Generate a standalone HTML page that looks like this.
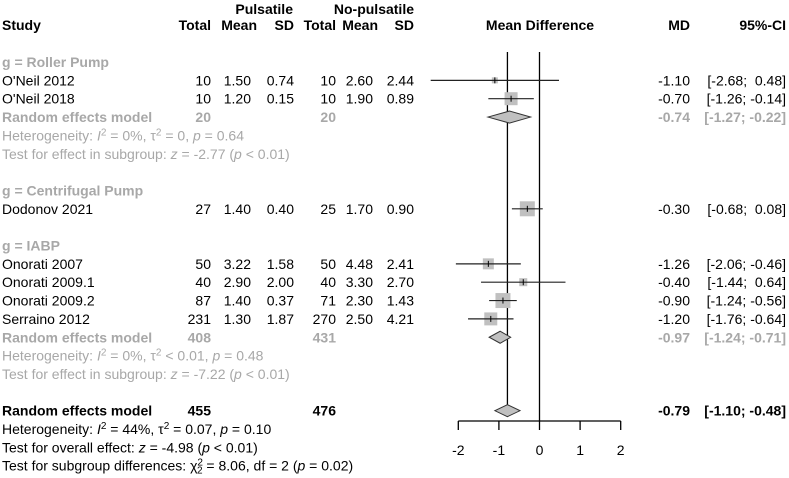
<!DOCTYPE html>
<html><head><meta charset="utf-8"><style>
body{margin:0;background:#fff}
svg{display:block;font-family:"Liberation Sans",Arial,sans-serif;font-size:14px}
.b{font-weight:bold}.g{fill:#a8a8a8}
</style></head><body>
<svg id="plot" width="789" height="478" viewBox="0 0 789 478">
<g>
<text x="2" y="30" class="b">Study</text>
<text x="293" y="14" class="b" text-anchor="end">Pulsatile</text>
<text x="414" y="14" class="b" text-anchor="end">No-pulsatile</text>
<text x="211" y="30" class="b" text-anchor="end">Total</text>
<text x="257" y="30" class="b" text-anchor="end">Mean</text>
<text x="294" y="30" class="b" text-anchor="end">SD</text>
<text x="336" y="30" class="b" text-anchor="end">Total</text>
<text x="378" y="30" class="b" text-anchor="end">Mean</text>
<text x="414" y="30" class="b" text-anchor="end">SD</text>
<text x="540" y="30" class="b" text-anchor="middle">Mean Difference</text>
<text x="690" y="30" class="b" text-anchor="end">MD</text>
<text x="786" y="30" class="b" text-anchor="end">95%-CI</text>
</g>
<g id="rows"></g>
<g id="marks"></g>
</svg>
<script>
const labels=["O'Neil 2012","O'Neil 2018","Dodonov 2021","Onorati 2007","Onorati 2009.1","Onorati 2009.2","Serraino 2012"];
const nP=[10,10,27,50,40,87,231];
const meanP=["1.50","1.20","1.40","3.22","2.90","1.40","1.30"];
const sdP=["0.74","0.15","0.40","1.58","2.00","0.37","1.87"];
const nN=[10,10,25,50,40,71,270];
const meanN=["2.60","1.90","1.70","4.48","3.30","2.30","2.50"];
const sdN=["2.44","0.89","0.90","2.41","2.70","1.43","4.21"];
const md=[-1.10,-0.70,-0.30,-1.26,-0.40,-0.90,-1.20];
const lo=[-2.68,-1.26,-0.68,-2.06,-1.44,-1.24,-1.76];
const hi=[0.48,-0.14,0.08,-0.46,0.64,-0.56,-0.64];
const wt=[6,13,15,11,8,15,13];
const rowIdx=[1,2,8,11,12,13,14];
const poolMd=[-0.74,-0.97,-0.79];
const poolLo=[-1.27,-1.24,-1.10];
const poolHi=[-0.22,-0.71,-0.48];
const poolRow=[3,15,19];
const ticks=[-2,-1,0,1,2];

const NS="http://www.w3.org/2000/svg";
const X=v=>539.5+v*40.6;
const Y=r=>62+r*18.35;
const rows=document.getElementById('rows'),marks=document.getElementById('marks');
function el(tag,attrs,parent){const e=document.createElementNS(NS,tag);for(const k in attrs)e.setAttribute(k,attrs[k]);parent.appendChild(e);return e;}
function t(x,y,s,cls,anchor,parent,name){const e=el('text',{x:x,y:y,'text-anchor':anchor||'start'},parent||rows);if(cls)e.setAttribute('class',cls);e.innerHTML=s;

return e;}
const f2=v=>(v<0?'-':'')+Math.abs(v).toFixed(2);
const ci=(a,b)=>'['+f2(a)+'; '+(b>=0?'&#160;':'')+f2(b)+']';
const L=2;

t(L,Y(0)+5,'g = Roller Pump','b g','start',rows,'subgroup-roller');
t(L,Y(7)+5,'g = Centrifugal Pump','b g','start',rows,'subgroup-centrifugal');
t(L,Y(10)+5,'g = IABP','b g','start',rows,'subgroup-iabp');
const sub=[[20,20,3],[408,431,15]];
sub.forEach(s=>{
 t(L,Y(s[2])+5,'Random effects model','b g','start',rows,'subgroup-re-label');
 t(211,Y(s[2])+5,s[0],'b g','end',rows,'subgroup-total-p');
 t(336,Y(s[2])+5,s[1],'b g','end',rows,'subgroup-total-np');
});
const sup=s=>'<tspan dy="-5" font-size="10">'+s+'</tspan><tspan dy="5">';
t(L,Y(4)+5,'Heterogeneity: <tspan font-style="italic">I</tspan>'+sup('2')+' = 0%, τ</tspan>'+sup('2')+' = 0, </tspan><tspan font-style="italic">p</tspan> = 0.64','g','start',rows,'heterogeneity-roller');
t(L,Y(5)+5,'Test for effect in subgroup: <tspan font-style="italic">z</tspan> = -2.77 (<tspan font-style="italic">p</tspan> &lt; 0.01)','g','start',rows,'effect-test-roller');
t(L,Y(16)+5,'Heterogeneity: <tspan font-style="italic">I</tspan>'+sup('2')+' = 0%, τ</tspan>'+sup('2')+' &lt; 0.01, </tspan><tspan font-style="italic">p</tspan> = 0.48','g','start',rows,'heterogeneity-iabp');
t(L,Y(17)+5,'Test for effect in subgroup: <tspan font-style="italic">z</tspan> = -7.22 (<tspan font-style="italic">p</tspan> &lt; 0.01)','g','start',rows,'effect-test-iabp');
t(L,Y(19)+5,'Random effects model','b','start',rows,'overall-re-label');
t(211,Y(19)+5,'455','b','end',rows,'overall-total-p');
t(336,Y(19)+5,'476','b','end',rows,'overall-total-np');
t(L,Y(20)+5,'Heterogeneity: <tspan font-style="italic">I</tspan>'+sup('2')+' = 44%, τ</tspan>'+sup('2')+' = 0.07, </tspan><tspan font-style="italic">p</tspan> = 0.10','','start',rows,'heterogeneity-overall');
t(L,Y(21)+5,'Test for overall effect: <tspan font-style="italic">z</tspan> = -4.98 (<tspan font-style="italic">p</tspan> &lt; 0.01)','','start',rows,'overall-effect-test');
t(L,Y(22)+5,'Test for subgroup differences: χ<tspan dy="-5" font-size="10">2</tspan><tspan dy="8" dx="-6" font-size="10">2</tspan><tspan dy="-3"> = 8.06, df = 2 (</tspan><tspan font-style="italic">p</tspan> = 0.02)','','start',rows,'subgroup-diff-test');

const l0=el('line',{x1:X(0),x2:X(0),y1:52,y2:421,stroke:'#000','stroke-width':1.3},marks);


const lp=el('line',{x1:X(poolMd[2]),x2:X(poolMd[2]),y1:52,y2:Y(19)-6,stroke:'#000','stroke-width':1.3},marks);



labels.forEach((lab,i)=>{
 const y=Y(rowIdx[i]);
 t(L,y+5,lab,'','start',rows,'study-name');
 t(211,y+5,nP[i],'','end',rows,'total-p');
 t(251,y+5,meanP[i],'','end',rows,'mean-p');
 t(294,y+5,sdP[i],'','end',rows,'sd-p');
 t(336,y+5,nN[i],'','end',rows,'total-np');
 t(373,y+5,meanN[i],'','end',rows,'mean-np');
 t(414,y+5,sdN[i],'','end',rows,'sd-np');
 t(690,y+5,f2(md[i]),'','end',rows,'md-value');
 t(786,y+5,ci(lo[i],hi[i]),'','end',rows,'ci-value');
 const w=wt[i];
 const sq=el('rect',{x:X(md[i])-w/2,y:y-w/2,width:w,height:w,fill:'#c0c0c0'},marks);
 
 
 const ln=el('line',{x1:X(lo[i]),x2:X(hi[i]),y1:y,y2:y,stroke:'#222','stroke-width':1.2},marks);
 
 
 const tk=el('line',{x1:X(md[i]),x2:X(md[i]),y1:y-3,y2:y+3,stroke:'#000','stroke-width':1},marks);
 
 
});

poolMd.forEach((m,i)=>{
 const y=Y(poolRow[i]);const h=6;
 const d=el('polygon',{points:`${X(poolLo[i])},${y} ${X(m)},${y-h} ${X(poolHi[i])},${y} ${X(m)},${y+h}`,fill:'#c0c0c0',stroke:'#333','stroke-width':1},marks);
 
 
 const c=i<2?'b g':'b';
 t(690,y+5,f2(m),c,'end',rows,'pooled-md');
 t(786,y+5,ci(poolLo[i],poolHi[i]),c,'end',rows,'pooled-ci');
});

const ax=el('line',{x1:X(ticks[0]),x2:X(ticks[ticks.length-1]),y1:421,y2:421,stroke:'#000','stroke-width':1.3},marks);


ticks.forEach(v=>{
 const tk=el('line',{x1:X(v),x2:X(v),y1:421,y2:430,stroke:'#000','stroke-width':1.3},marks);
 
 
 t(X(v),455,v,'','middle',marks,'x-tick-label');
});
</script>
</body></html>
